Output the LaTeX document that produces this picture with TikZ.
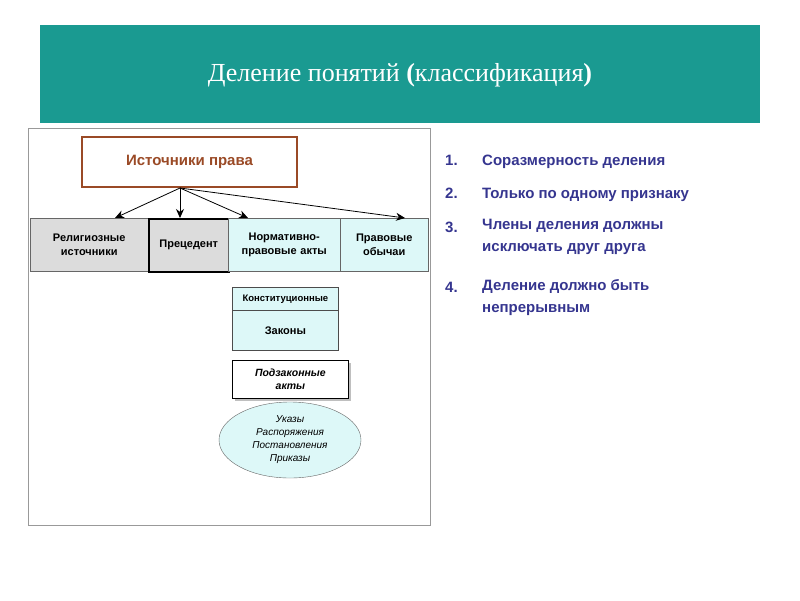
\documentclass[tikz,border=0pt]{standalone}
\usepackage{fontspec}
\setmainfont{Liberation Serif}
\setsansfont{Liberation Sans}
\usetikzlibrary{shapes.geometric,shadows,arrows.meta}
\definecolor{teal1}{HTML}{1A9A91}
\definecolor{brown1}{HTML}{9A4A26}
\definecolor{cyan1}{HTML}{DDF8F8}
\definecolor{gray1}{HTML}{DCDCDC}
\definecolor{blue1}{HTML}{35358F}
\tikzset{
  cell/.style={draw=black!60, anchor=north west, inner sep=2pt, align=center,
    font=\sffamily\bfseries\fontsize{11}{14}\selectfont},
  item/.style={anchor=base west, text=blue1, align=left, inner sep=0pt,
    font=\sffamily\bfseries\fontsize{15}{22}\selectfont}
}
\begin{document}
\begin{tikzpicture}[x=1pt,y=-1pt]
  \useasboundingbox (0,0) rectangle (800,600);
  \fill[teal1] (40,25) rectangle (760,123);
  \node[text=white, font=\fontsize{26}{30}\selectfont] (title) at (400,75)
    {Деление понятий \textbf{(}классификация\textbf{)}};
  \draw[black!40] (28,128) rectangle (430,525);
  \node[draw=brown1, line width=1.5pt, minimum width=215pt, minimum height=50pt,
    text=brown1, font=\sffamily\bfseries\fontsize{15}{18}\selectfont] (src) at (189.5,162) {Источники права};
  \node[cell, fill=gray1, text width=114pt, minimum height=53pt] (rel) at (30,218) {Религиозные\\источники};
  \node[cell, fill=gray1, draw=black, line width=1.5pt, text width=76pt, minimum height=53pt] (prec) at (148,218) {Прецедент};
  \node[cell, fill=cyan1, text width=108pt, minimum height=53pt] (norm) at (228,218) {Нормативно-\\правовые акты};
  \node[cell, fill=cyan1, text width=84pt, minimum height=53pt] (cust) at (340,218) {Правовые\\обычаи};
  \coordinate (c1) at (115,218);
  \coordinate (c2) at (180,218);
  \coordinate (c3) at (248,218);
  \coordinate (c4) at (405,218);
  \foreach \t in {c1,c2,c3,c4}
    \draw[-{Stealth[length=9pt,width=8pt]}, thick] (180,188) -- (\t);
  \node[cell, fill=cyan1, draw=black!70, line width=0.8pt, minimum width=106pt, minimum height=23pt,
    font=\sffamily\bfseries\fontsize{9.5}{11}\selectfont] (const) at (232,287) {Конституционные};
  \node[cell, fill=cyan1, draw=black!70, line width=0.8pt, minimum width=106pt, minimum height=40pt] (laws) at (232,310) {Законы};
  \node[cell, fill=white, draw=black, line width=0.8pt, drop shadow, minimum width=116pt, minimum height=38pt,
    font=\sffamily\bfseries\itshape\fontsize{10.5}{13}\selectfont] (sub) at (232,360) {Подзаконные\\акты};
  \node[ellipse, draw=black!60, fill=cyan1, minimum width=142pt, minimum height=76pt, align=center, inner sep=0pt,
    font=\sffamily\itshape\fontsize{10}{13}\selectfont] (orders) at (290,440)
    {Указы\\Распоряжения\\Постановления\\Приказы};
  \node[item] (n1) at (445,165) {1.};
  \node[item] (t1) at (482,165) {Соразмерность деления};
  \node[item] (n2) at (445,198) {2.};
  \node[item] (t2) at (482,198) {Только по одному признаку};
  \node[item] (n3) at (445,232) {3.};
  \node[item, anchor=north west] (t3) at (482,219) {Члены деления должны\\исключать друг друга};
  \node[item] (n4) at (445,292) {4.};
  \node[item, anchor=north west] (t4) at (482,279) {Деление должно быть\\непрерывным};
\end{tikzpicture}
\end{document}
